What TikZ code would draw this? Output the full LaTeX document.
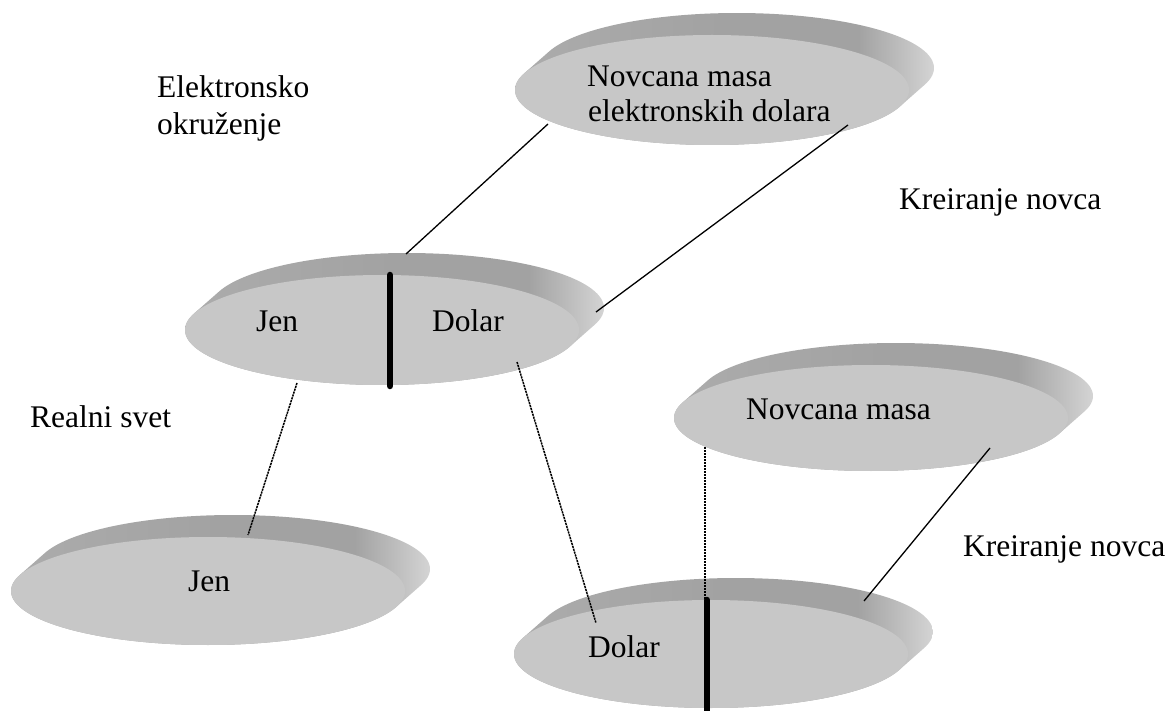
\documentclass[tikz,border=0pt]{standalone}
\usepackage{fontspec}
\setmainfont{Liberation Serif}
\definecolor{facegray}{RGB}{199,199,199}
\definecolor{rimA}{RGB}{172,172,172}
\definecolor{rimB}{RGB}{162,162,162}
\definecolor{rimC}{RGB}{212,212,212}
\pgfdeclarehorizontalshading{rimshade}{100bp}{color(0bp)=(rimA); color(25bp)=(rimA); color(50bp)=(rimB); color(66bp)=(rimB); color(75bp)=(rimC); color(100bp)=(rimC)}
\newcommand\mydisk[3]{%
  \shade[shading=rimshade] plot[domain=197.6:377.6,samples=90] ({#1+25+197*cos(\x)},{#2-22+#3*sin(\x)})
     -- plot[domain=17.6:197.6,samples=90] ({#1+197*cos(\x)},{#2+#3*sin(\x)}) -- cycle;
  \fill[facegray] (#1,#2) ellipse [x radius=197, y radius=#3];
}
\tikzset{
  lbl/.style={anchor=base west, inner sep=0pt, font=\fontsize{31.5}{37}\selectfont},
  conn/.style={line width=1.3pt, black},
  dotconn/.style={line width=1.5pt, black, dash pattern=on 2.2pt off 0.8pt},
  bar/.style={line width=6.5pt, black, line cap=round}
}
\begin{document}
\begin{tikzpicture}[x=1pt,y=-1pt]
\fill[white] (0,0) rectangle (1170,711);
\useasboundingbox (0,0) rectangle (1170,711);
% disks
\mydisk{712}{90}{55}
\mydisk{382}{330}{55}
\mydisk{871}{418}{53}
\mydisk{208}{591}{54}
\mydisk{711}{654}{54}
% separators
\coordinate (s1a) at (390,275);
\coordinate (s1b) at (390,386);
\coordinate (s2a) at (707,600);
\coordinate (s2b) at (707,716);
\draw[bar] (s1a) -- (s1b);
\draw[bar] (s2a) -- (s2b);
% labels
\node[lbl] (t1) at (157,98) {Elektronsko};
\node[lbl] (t2) at (157,135) {okruženje};
\node[lbl] (t3) at (899,210) {Kreiranje novca};
\node[lbl] (t4) at (30,427) {Realni svet};
\node[lbl] (t5) at (963,556) {Kreiranje novca};
\node[lbl] (d1a) at (587,87) {Novcana masa};
\node[lbl] (d1b) at (588,122) {elektronskih dolara};
\node[lbl] (d2a) at (256,331) {Jen};
\node[lbl] (d2b) at (432,331) {Dolar};
\node[lbl] (d3) at (188,591) {Jen};
\node[lbl] (d4) at (588,657) {Dolar};
\node[lbl] (d5) at (746,419) {Novcana masa};
% connector ends
\coordinate (a1) at (406,254); \coordinate (b1) at (548,124);
\coordinate (a2) at (596,312); \coordinate (b2) at (848,125);
\coordinate (a3) at (297,383); \coordinate (b3) at (248,535);
\coordinate (a4) at (517,362); \coordinate (b4) at (596,623);
\coordinate (a5) at (705,447); \coordinate (b5) at (705,600);
\coordinate (a6) at (990,448); \coordinate (b6) at (864,601);
\draw[conn] (a1) -- (b1);
\draw[conn] (a2) -- (b2);
\draw[dotconn] (a3) -- (b3);
\draw[dotconn] (a4) -- (b4);
\draw[dotconn] (a5) -- (b5);
\draw[conn] (a6) -- (b6);
\end{tikzpicture}
\end{document}
